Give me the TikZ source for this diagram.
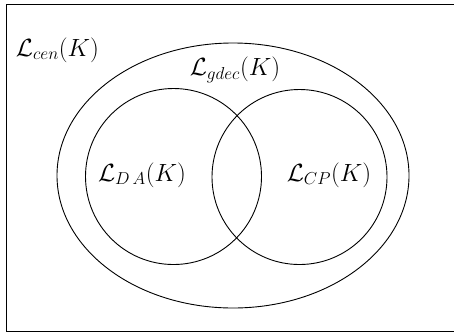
\documentclass[tikz,border=0pt]{standalone}
\usetikzlibrary{shapes.geometric}
\begin{document}
\begin{tikzpicture}[x=1pt,y=-1pt,
  setline/.style={draw=black, line width=0.9pt, inner sep=0pt, outer sep=0pt},
  lbl/.style={inner sep=0pt, font=\fontsize{26.5}{30}\selectfont}]
\useasboundingbox (0,0) rectangle (454,333);
\draw[line width=0.9pt] (454,4.5) -- (6.5,4.5) -- (6.5,331.5) -- (454,331.5);
\node[setline, ellipse, minimum width=352pt, minimum height=265pt] (gdec) at (233,175.5) {};
\node[setline, circle, minimum size=176pt] (da) at (173.5,176.5) {};
\node[setline, circle, minimum size=175pt] (cp) at (299.5,177) {};
\node[lbl] (tcen) at (57.5,50) {$\mathcal{L}_{cen}(K)$};
\node[lbl] (tgdec) at (235,70) {$\mathcal{L}_{gdec}(K)$};
\node[lbl] (tda) at (142,175) {$\mathcal{L}_{D\,A}(K)$};
\node[lbl] (tcp) at (329,175) {$\mathcal{L}_{CP}(K)$};
\end{tikzpicture}
\end{document}
